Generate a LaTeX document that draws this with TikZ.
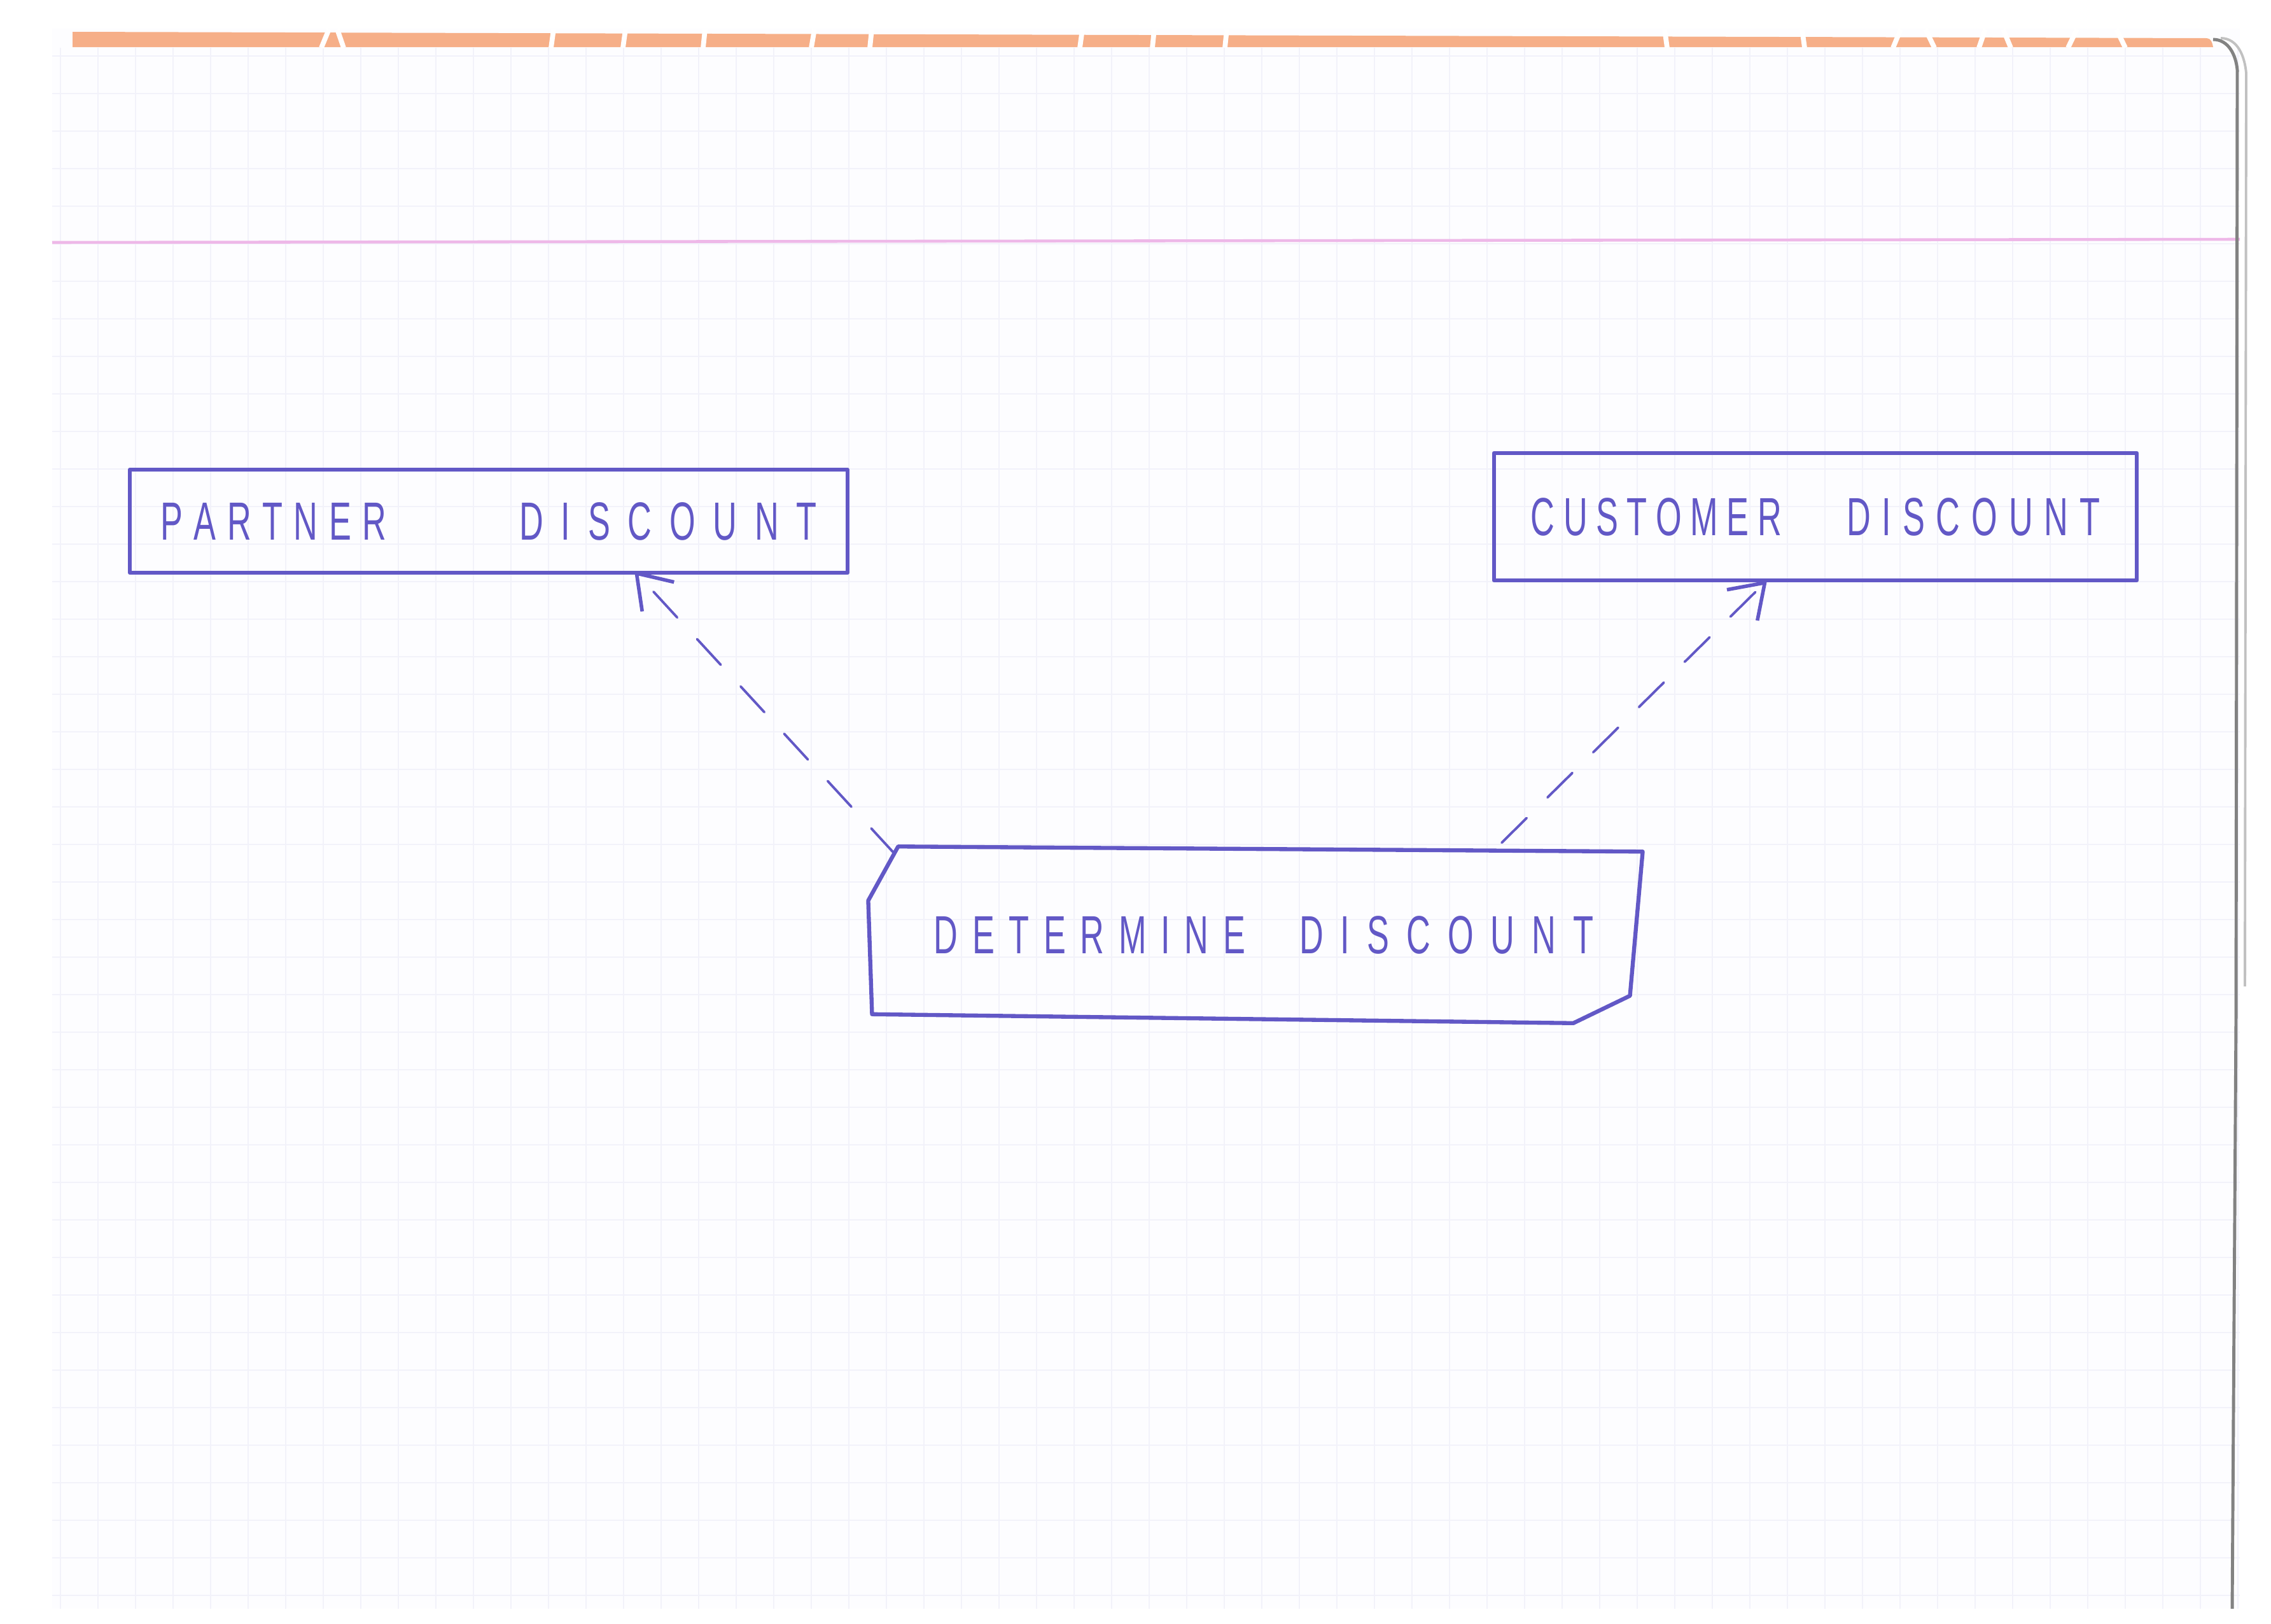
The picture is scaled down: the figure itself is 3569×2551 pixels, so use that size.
\documentclass[tikz,border=0pt]{standalone}
\usepackage{fontspec}
\setmainfont{Liberation Sans}
\newfontfamily\handfont[FakeStretch=0.62]{Liberation Sans}
\usetikzlibrary{arrows.meta,calc}
\definecolor{ink}{RGB}{98,88,198}
\definecolor{paper}{RGB}{253,253,255}
\definecolor{gridc}{RGB}{242,242,250}
\definecolor{band}{RGB}{246,175,136}
\definecolor{margin}{RGB}{238,184,232}
\definecolor{edge}{RGB}{130,130,130}
\newcommand\spreadw[2]{\makebox[#1][s]{#2}}
\begin{document}
\begin{tikzpicture}[x=0.01cm,y=-0.01cm,
  outline/.style={draw=ink, line width=1.8pt, line join=round},
  box/.style={outline, inner sep=0pt, text=ink, font=\handfont\fontsize{24pt}{28pt}\selectfont},
  plainbox/.style={inner sep=0pt, text=ink, font=\handfont\fontsize{24pt}{28pt}\selectfont},
  dep/.style={draw=ink, line width=1.1pt, line cap=round, dash pattern=on 0.55cm off 0.46cm,
    -{Straight Barb[length=0.5cm,width=0.68cm,line width=1.6pt]}}]
\useasboundingbox (0,0) rectangle (3569,2551);
\fill[white] (0,0) rectangle (3569,2551);
% the sheet
\fill[paper] (82,45) rectangle (3520,2528);
\foreach \gx in {95,154,...,3520} \draw[gridc, line width=0.6pt] (\gx,75) -- (\gx,2528);
\foreach \gy in {88,147,...,2528} \draw[gridc, line width=0.6pt] (82,\gy) -- (3520,\gy);
% orange band at the top
\fill[band] (114,50) -- (3468,60) to[out=0,in=100] (3478,74) -- (114,74) -- cycle;
\foreach \bx/\dx in {505/12,540/-10,866/4,979/4,1105/3,1275/5,1367/3,1697/4,1811/3,1925/3,2620/-4,2836/-4,2975/12,3040/-14,3110/10,3160/-12,3250/14,3340/-14}
  \draw[white, line width=2.2pt] (\bx,75) -- ({\bx+\dx},46);
% pink margin line
\draw[margin, line width=1.3pt] (82,381) -- (3520,376);
% right edge of the sheet
\draw[edge, line width=1.4pt] (3478,62) to[out=0,in=95] (3516,110) -- (3514,1600) -- (3508,2528);
\draw[edge!50, line width=1.1pt] (3490,60) to[out=0,in=95] (3530,115) -- (3528,1550);
% boxes
\node[box, minimum width=11.27cm, minimum height=1.62cm] (p) at (768,819)
  {\spreadw{3.55cm}{P\hfil A\hfil R\hfil T\hfil N\hfil E\hfil R}\hspace{2.09cm}\spreadw{4.67cm}{D\hfil I\hfil S\hfil C\hfil O\hfil U\hfil N\hfil T}};
\node[box, minimum width=10.10cm, minimum height=2.0cm] (c) at (2853,812)
  {\spreadw{3.94cm}{C\hfil U\hfil S\hfil T\hfil O\hfil M\hfil E\hfil R}\hspace{1.02cm}\spreadw{3.98cm}{D\hfil I\hfil S\hfil C\hfil O\hfil U\hfil N\hfil T}};
\node[plainbox, minimum width=12.15cm, minimum height=2.76cm] (d) at (1973,1469)
  {\hspace{0.26cm}\spreadw{4.89cm}{D\hfil E\hfil T\hfil E\hfil R\hfil M\hfil I\hfil N\hfil E}\hspace{0.85cm}\spreadw{4.62cm}{D\hfil I\hfil S\hfil C\hfil O\hfil U\hfil N\hfil T}};
\draw[outline] ($(d.north west)+(47,0)$) -- ($(d.north east)+(0,8)$) -- ($(d.south east)+(-20,-43)$)
  -- ($(d.south east)+(-109,0)$) -- ($(d.south west)+(6,-14)$) -- ($(d.north west)+(0,85)$) -- cycle;
% connectors
\coordinate (pt) at ($(p.south)+(229,-6)$);
\coordinate (ls) at ($(d.north west)+(42,12)$);
\coordinate (ct) at ($(c.south)+(-76,-3)$);
\coordinate (rs) at ($(d.north)+(387,-6)$);
\draw[dep] (ls) -- (pt);
\draw[dep] (rs) -- (ct);
\end{tikzpicture}
\end{document}
